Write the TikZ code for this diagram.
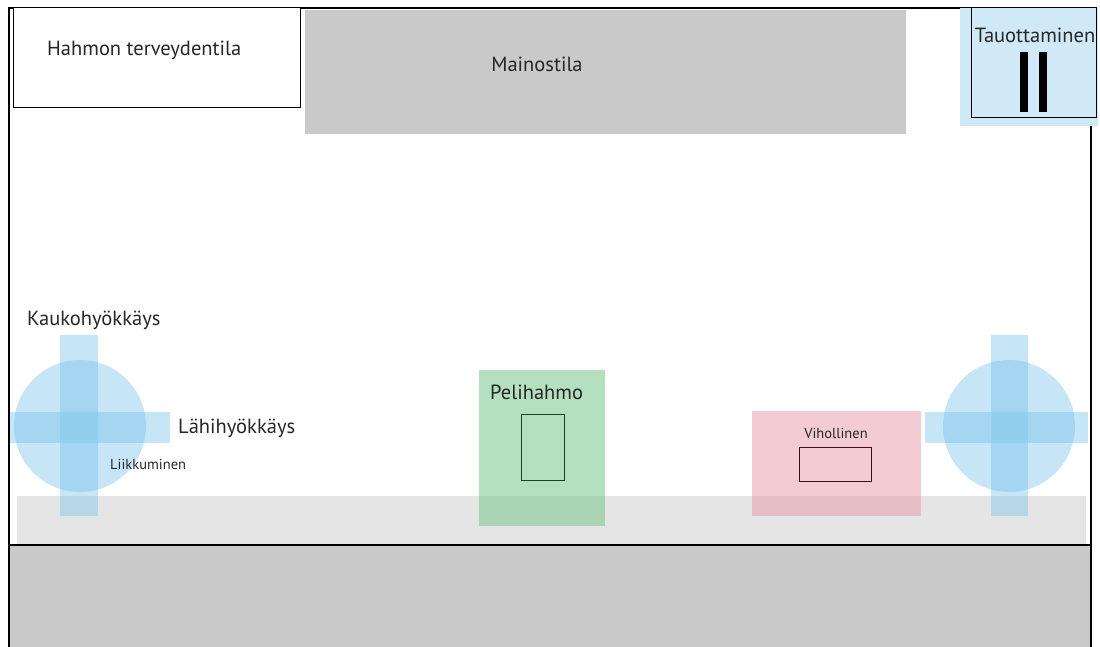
\documentclass[tikz,border=0pt]{standalone}
\usepackage{fontspec}
\setmainfont{PT Sans}
\definecolor{joyblue}{RGB}{120,195,235}
\definecolor{pauseblue}{RGB}{207,233,247}
\definecolor{plgreen}{RGB}{120,200,140}
\definecolor{plgreendark}{RGB}{20,70,30}
\definecolor{enpink}{RGB}{232,150,165}
\definecolor{enbrown}{RGB}{60,15,20}
\begin{document}
\begin{tikzpicture}[x=1pt,y=-1pt,
  lbl/.style={inner sep=0pt, text=black!85, font=\fontsize{20.5}{22}\selectfont},
  smlbl/.style={inner sep=0pt, text=black!85, font=\fontsize{14.5}{16}\selectfont},
  joy/.style={fill=joyblue, opacity=0.42, draw=none},
  frameline/.style={draw=black, line width=1.2pt}]
\useasboundingbox (0,0) rectangle (1100,647);
\fill[white] (0,0) rectangle (1100,647);
% ground strip and bottom area
\fill[black!10] (17,496) rectangle (1086,544);
\fill[black!21] (9,545) rectangle (1091,647);
% outer frame
\draw[frameline] (9,647) -- (9,8) -- (1091,8) -- (1091,647);
\draw[frameline] (9,545) -- (1091,545);
% health box
\node[draw=black, fill=white, line width=1pt, minimum width=287pt, minimum height=100pt, inner sep=0pt] (health) at (156.5,58) {};
\node[lbl, anchor=west] (healthtxt) at (47,50) {Hahmon terveydentila};
% ad space
\fill[black!21] (305,10) rectangle (906,134);
\node[lbl] (ad) at (537,64) {Mainostila};
% pause
\fill[pauseblue] (960,8) rectangle (1098,126);
\node[draw=black, line width=1pt, minimum width=125pt, minimum height=110pt, inner sep=0pt] (pause) at (1033.5,63) {};
\node[lbl] (pausetxt) at (1035,35) {Tauottaminen};
\fill[black] (1020,52) rectangle (1028,112);
\fill[black] (1039,52) rectangle (1047,112);
% left joystick
\fill[joy] (80,426) circle (66);
\fill[joy] (60,335) rectangle (98,516);
\fill[joy] (10,412) rectangle (170,443);
\node[lbl, anchor=west] (ranged) at (27,320) {Kaukohyökkäys};
\node[lbl, anchor=west] (melee) at (178,428) {Lähihyökkäys};
\node[smlbl, anchor=west] (move) at (110,464) {Liikkuminen};
% right joystick
\fill[joy] (1009,426) circle (66);
\fill[joy] (991,335) rectangle (1028,516);
\fill[joy] (925,412) rectangle (1088,443);
% player
\fill[plgreen, opacity=0.55] (479,370) rectangle (605,526);
\node[lbl, anchor=west] (player) at (490,392) {Pelihahmo};
\node[draw=plgreendark, line width=0.9pt, minimum width=43pt, minimum height=66pt, inner sep=0pt] (playerbox) at (542.5,447) {};
% enemy
\fill[enpink, opacity=0.48] (752,411) rectangle (921,516);
\node[smlbl] (enemy) at (836,433) {Vihollinen};
\node[draw=enbrown, line width=0.9pt, minimum width=72pt, minimum height=34pt, inner sep=0pt] (enemybox) at (835,464) {};
\end{tikzpicture}
\end{document}
